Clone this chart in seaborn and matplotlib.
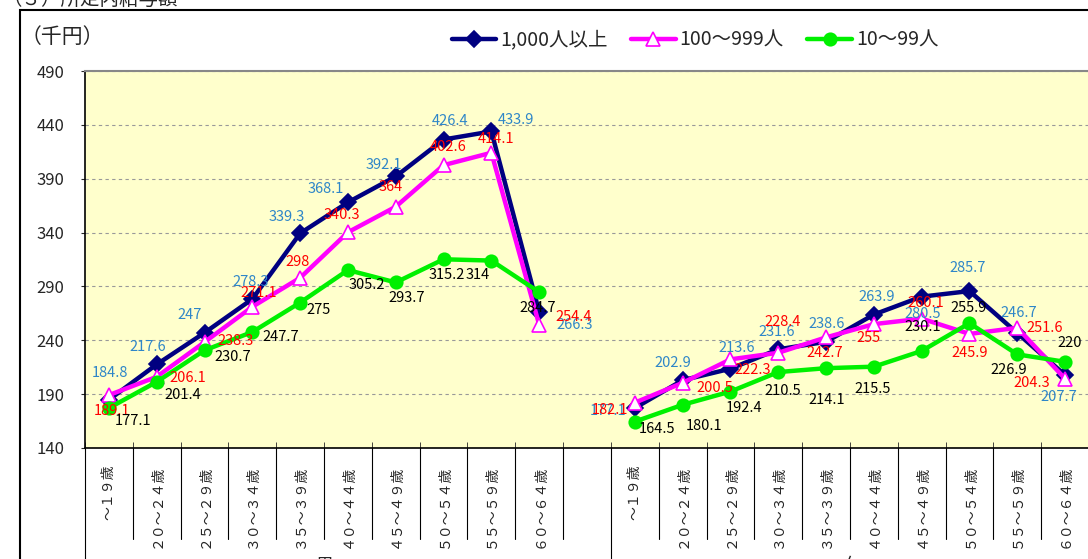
import matplotlib
matplotlib.use("Agg")
import matplotlib.pyplot as plt
from matplotlib.lines import Line2D
from matplotlib.patches import Rectangle
import pandas as pd
import seaborn as sns

W, H = 1088, 559

AGE_LABELS = ["～１９歳", "２０～２４歳", "２５～２９歳", "３０～３４歳", "３５～３９歳",
              "４０～４４歳", "４５～４９歳", "５０～５４歳", "５５～５９歳", "６０～６４歳"]
SERIES = ["1,000人以上", "100～999人", "10～99人"]

large_male = [184.8, 217.6, 247, 278.3, 339.3, 368.1, 392.1, 426.4, 433.9, 266.3]
large_female = [177.1, 202.9, 213.6, 231.6, 238.6, 263.9, 280.5, 285.7, 246.7, 207.7]
mid_male = [189.1, 206.1, 238.3, 271.1, 298, 340.3, 364, 402.6, 414.1, 254.4]
mid_female = [182.1, 200.5, 222.3, 228.4, 242.7, 255, 260.1, 245.9, 251.6, 204.3]
small_male = [177.1, 201.4, 230.7, 247.7, 275, 305.2, 293.7, 315.2, 314, 284.7]
small_female = [164.5, 180.1, 192.4, 210.5, 214.1, 215.5, 230.1, 255.9, 226.9, 220]

# label offsets in pixels (dx, dy downwards), as placed in the original chart
label_offsets = {
    ("1,000人以上", "男"): [(1, -27), (-9, -17), (-15, -18), (-2, -17), (-13, -16),
                        (-22, -13), (-12, -11), (6, -19), (25, -11), (35, 13)],
    ("1,000人以上", "女"): [(-27, 3), (-10, -17), (6, -21), (-2, -17), (1, -18),
                        (3, -18), (1, 17), (-2, -23), (1, -20), (-6, 22)],
    ("100～999人", "男"): [(3, 16), (31, 1), (31, -1), (6, -14), (-3, -16),
                        (-6, -17), (-5, -20), (5, -18), (5, -14), (34, -8)],
    ("100～999人", "女"): [(-25, 7), (32, 5), (22, 11), (4, -31), (-1, 16),
                        (-5, 14), (4, -16), (0, 19), (27, 0), (-33, 4)],
    ("10～99人", "男"): [(24, 13), (26, 13), (28, 7), (28, 5), (18, 7),
                       (19, 15), (11, 16), (3, 16), (-14, 14), (-2, 16)],
    ("10～99人", "女"): [(22, 7), (21, 21), (14, 16), (5, 19), (1, 32),
                       (-1, 22), (1, -24), (-1, -15), (-9, 16), (5, -19)],
}

styles = {
    "1,000人以上": dict(color="#000080", marker="D", markersize=8,
                     markerfacecolor="#000080", markeredgecolor="#000080", zorder=3),
    "100～999人": dict(color="#FF00FF", marker="^", markersize=10,
                     markerfacecolor="white", markeredgecolor="#FF00FF", zorder=4),
    "10～99人": dict(color="#00F000", marker="o", markersize=9,
                   markerfacecolor="#00F000", markeredgecolor="#00F000", zorder=5),
}
label_colors = {"1,000人以上": "#2E86C8", "100～999人": "#FF0000", "10～99人": "#000000"}

rows = []
for name, male, female in [(SERIES[0], large_male, large_female),
                           (SERIES[1], mid_male, mid_female),
                           (SERIES[2], small_male, small_female)]:
    for i, v in enumerate(male):
        rows.append({"series": name, "sex": "男", "age": i, "pos": i, "value": v})
    for i, v in enumerate(female):
        rows.append({"series": name, "sex": "女", "age": i, "pos": i + 11, "value": v})
df = pd.DataFrame(rows)

sns.set_style("white")
plt.rcParams["font.family"] = ["Noto Sans CJK JP", "DejaVu Sans"]

fig = plt.figure(figsize=(W / 100, H / 100), dpi=100)
ax = fig.add_axes([85 / W, (H - 448) / H, (1089 - 85) / W, 377 / H])
ax.set_facecolor("#FFFFCC")

for name in SERIES:
    for sex in ["男", "女"]:
        sub = df[(df["series"] == name) & (df["sex"] == sex)]
        sns.lineplot(data=sub, x="pos", y="value", ax=ax, linewidth=3.2,
                     markeredgewidth=1.2, **styles[name])
        for (_, r), (dx, dy) in zip(sub.iterrows(), label_offsets[(name, sex)]):
            ax.annotate(f"{r['value']:g}", (r["pos"], r["value"]), xytext=(dx, -dy),
                        textcoords="offset pixels", ha="center", va="center",
                        fontsize=10.5, color=label_colors[name], zorder=10)

ax.set_xlim(-0.5, 20.5)
ax.set_ylim(140, 490)
ax.set_yticks(range(140, 491, 50))
ax.yaxis.grid(True, linestyle=(0, (3, 3)), color="#999999", linewidth=0.8)
ax.set_axisbelow(True)
ax.tick_params(axis="y", labelsize=12, length=3, pad=12, left=True)

ax.set_xticks(list(range(10)) + list(range(11, 21)))
ax.set_xticklabels(AGE_LABELS + AGE_LABELS, rotation=90, fontsize=10)
ax.tick_params(axis="x", length=0, pad=12)
ax.set_xticks([k - 0.5 for k in range(22)], minor=True)
ax.tick_params(axis="x", which="minor", direction="in", length=4, bottom=True)
ax.set_xlabel("")
ax.set_ylabel("")

for k in range(22):
    bottom = -0.33 if k in (0, 11) else -(539 - 448) / 377
    ax.plot([k - 0.5, k - 0.5], [0, bottom], transform=ax.get_xaxis_transform(),
            color="black", linewidth=0.8, clip_on=False)

ax.text(4.5, -(566 - 448) / 377, "男", transform=ax.get_xaxis_transform(),
        ha="center", va="center", fontsize=13)
ax.text(15.5, -(566 - 448) / 377, "女", transform=ax.get_xaxis_transform(),
        ha="center", va="center", fontsize=13)

for side in ["left", "bottom"]:
    ax.spines[side].set_color("black")
    ax.spines[side].set_linewidth(1.2)
ax.spines["top"].set_color("#888888")
ax.spines["top"].set_linewidth(1.5)
ax.spines["right"].set_visible(False)

handles = [Line2D([], [], linewidth=3.2, markeredgewidth=1.2, **{k: v for k, v in styles[n].items() if k != "zorder"})
           for n in SERIES]
fig.legend(handles, SERIES, loc="center", bbox_to_anchor=(695 / W, 1 - 40 / H), ncol=3,
           frameon=False, fontsize=14, handlelength=2.3, handletextpad=0.2,
           columnspacing=1.2)

fig.text(62 / W, 1 - 37 / H, "（千円）", ha="center", va="center", fontsize=15)
fig.text(3 / W, 1 + 1 / H, "（３）所定内給与額", ha="left", va="center", fontsize=14)
fig.patches.append(Rectangle((20 / W, -0.1), 1.1, 1 - 10 / H + 0.1, transform=fig.transFigure,
                             fill=False, edgecolor="black", linewidth=1.5))

fig.savefig("out.png", dpi=100)
